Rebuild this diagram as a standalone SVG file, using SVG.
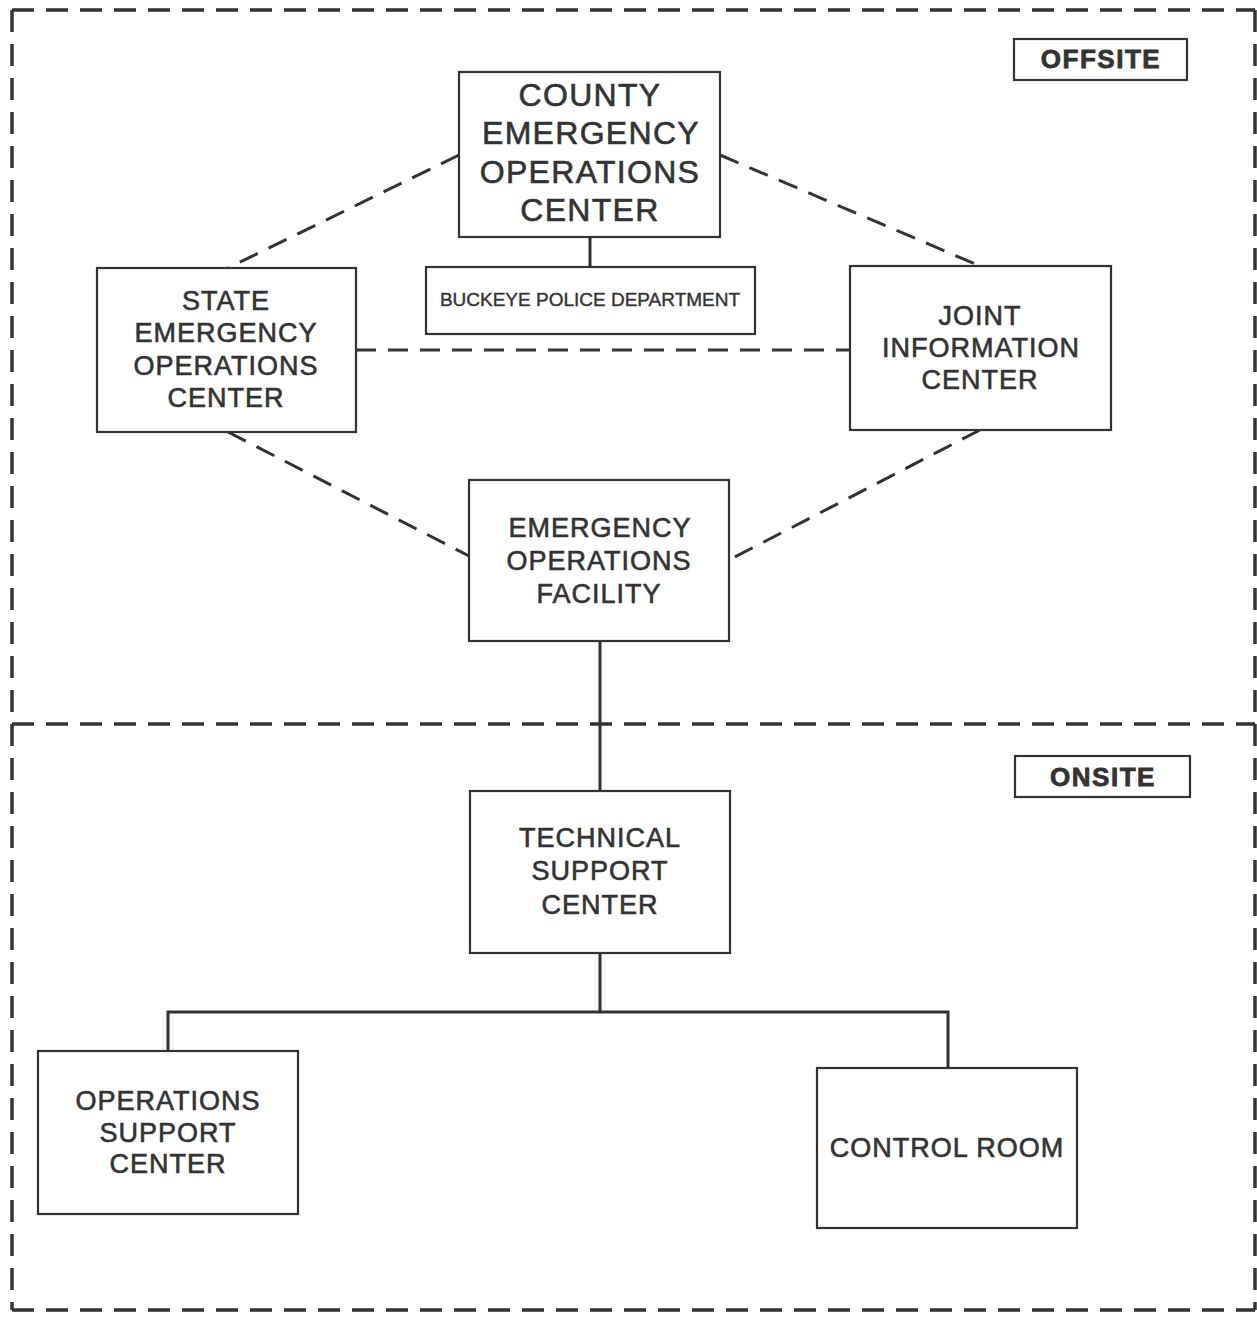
<svg xmlns="http://www.w3.org/2000/svg" width="1257" height="1322" viewBox="0 0 1257 1322">
<style>
.box{fill:#fff;stroke:#333;stroke-width:2.2}
.frame{fill:none;stroke:#333;stroke-width:3.5;stroke-dasharray:22 12}
.dash{fill:none;stroke:#333;stroke-width:3;stroke-dasharray:20 12}
.solid{fill:none;stroke:#333;stroke-width:3}
text{font-family:"Liberation Sans",Arial,sans-serif;fill:#333;stroke:#333;stroke-width:0.6;text-anchor:middle}
.t27{font-size:27px;letter-spacing:1px}
.t32{font-size:32px;letter-spacing:1.3px}
.lab{font-size:26px;font-weight:bold;letter-spacing:1.5px;stroke-width:0.8}
.small{font-size:19px;stroke-width:0.4}
</style>
<rect width="1257" height="1322" fill="#fff"/>
<g id="frame">
<path class="frame" d="M12 10 H1255 M12 10 V1310 M12 1310 H1255 M1255 10 V1310"/>
<path class="frame" d="M12 724 H1255"/>
</g>
<g id="connectors">
<line class="solid" x1="590" y1="237" x2="590" y2="267"/>
<line class="dash" x1="459" y1="155" x2="228" y2="268"/>
<line class="dash" x1="720" y1="155" x2="980" y2="266"/>
<line class="dash" x1="356" y1="350" x2="850" y2="350"/>
<line class="dash" x1="228" y1="432" x2="469" y2="556"/>
<line class="dash" x1="980" y1="430" x2="729" y2="560"/>
<line class="solid" x1="600" y1="641" x2="600" y2="791"/>
<path class="solid" d="M600 953 V1012 M168 1051 V1012 H948 V1068"/>
</g>
<g id="offsite-label">
<rect class="box" x="1014" y="39" width="173" height="41"/>
<text class="lab" x="1101" y="68">OFFSITE</text>
</g>
<g id="onsite-label">
<rect class="box" x="1015" y="756" width="175" height="41"/>
<text class="lab" x="1103" y="786">ONSITE</text>
</g>
<g id="county-eoc">
<rect class="box" x="459" y="72" width="261" height="165"/>
<text class="t32" x="590" y="106">COUNTY</text>
<text class="t32" x="591" y="144">EMERGENCY</text>
<text class="t32" x="590" y="183">OPERATIONS</text>
<text class="t32" x="590" y="221">CENTER</text>
</g>
<g id="buckeye-pd">
<rect class="box" x="426" y="267" width="329" height="67"/>
<text class="small" x="590" y="306">BUCKEYE POLICE DEPARTMENT</text>
</g>
<g id="state-eoc">
<rect class="box" x="97" y="268" width="259" height="164"/>
<text class="t27" x="226" y="310">STATE</text>
<text class="t27" x="226" y="342">EMERGENCY</text>
<text class="t27" x="226" y="375">OPERATIONS</text>
<text class="t27" x="226" y="407">CENTER</text>
</g>
<g id="jic">
<rect class="box" x="850" y="266" width="261" height="164"/>
<text class="t27" x="980" y="325">JOINT</text>
<text class="t27" x="981" y="357">INFORMATION</text>
<text class="t27" x="980" y="389">CENTER</text>
</g>
<g id="eof">
<rect class="box" x="469" y="480" width="260" height="161"/>
<text class="t27" x="600" y="537">EMERGENCY</text>
<text class="t27" x="599" y="570">OPERATIONS</text>
<text class="t27" x="599" y="603">FACILITY</text>
</g>
<g id="tsc">
<rect class="box" x="470" y="791" width="260" height="162"/>
<text class="t27" x="600" y="847">TECHNICAL</text>
<text class="t27" x="600" y="880">SUPPORT</text>
<text class="t27" x="600" y="914">CENTER</text>
</g>
<g id="osc">
<rect class="box" x="38" y="1051" width="260" height="163"/>
<text class="t27" x="168" y="1110">OPERATIONS</text>
<text class="t27" x="168" y="1142">SUPPORT</text>
<text class="t27" x="168" y="1173">CENTER</text>
</g>
<g id="control-room">
<rect class="box" x="817" y="1068" width="260" height="160"/>
<text class="t27" x="947" y="1157">CONTROL ROOM</text>
</g>
</svg>
